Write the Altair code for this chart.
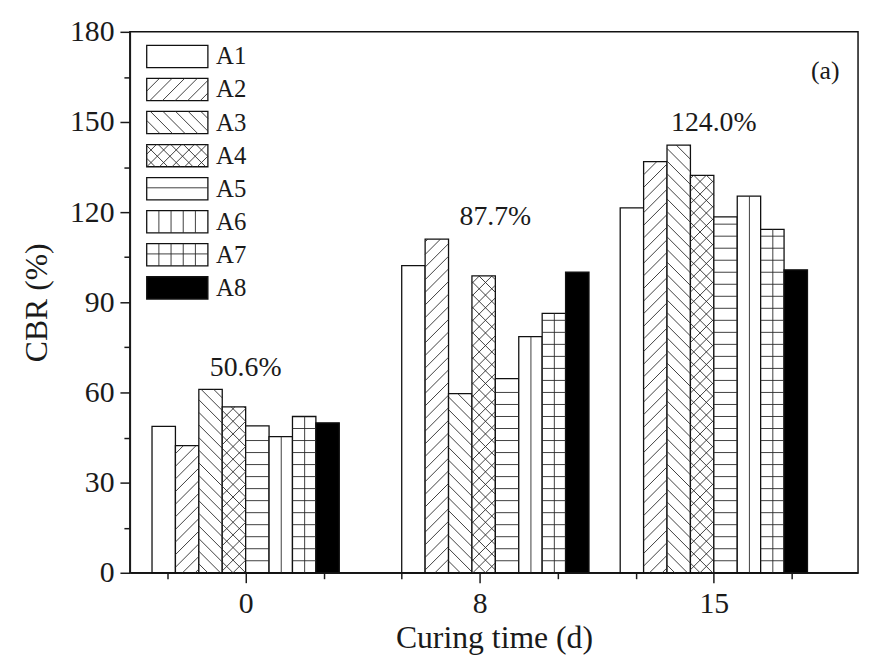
import math
import altair as alt
import pandas as pd

# ---------------- data ----------------
days = [0, 8, 15]
series = ["A1", "A2", "A3", "A4", "A5", "A6", "A7", "A8"]
cbr_day0 = [48.7, 42.3, 61.0, 55.2, 48.9, 45.3, 52.0, 49.9]
cbr_day8 = [102.2, 111.0, 59.6, 98.8, 64.6, 78.6, 86.3, 100.0]
cbr_day15 = [121.4, 136.8, 142.3, 132.2, 118.4, 125.3, 114.3, 100.8]
gain_labels = ["50.6%", "87.7%", "124.0%"]
tick_label_text = ["0", "8", "15"]
tick_label_at = [0, 7.5, 15]
hatches = [[], ["fwd"], ["back"], ["fwd", "back"], ["h"], ["v"], ["h", "v"], []]
fills = ["white"] * 7 + ["black"]

# ---------------- layout ----------------
W, H = 735, 546
X_DOM = [-3.71, 19.62]
Y_DOM = [0, 180]
K = (W / (X_DOM[1] - X_DOM[0])) / (H / (Y_DOM[1] - Y_DOM[0]))  # 45 deg in pixels
BAR_W = 0.75
DIAG_STEP = 4.2
H_STEP = 4.0
V_STEP = 0.39
FONT = "Liberation Serif"
INK = "#1a1a1a"


def hatch(xs, xe, y0, y1, kinds):
    segs = []
    for kind in kinds:
        if kind == "fwd":
            lo = math.ceil((y0 - K * xe) / DIAG_STEP)
            hi = math.floor((y1 - K * xs) / DIAG_STEP)
            for m in range(lo, hi + 1):
                c = m * DIAG_STEP
                xa = max(xs, (y0 - c) / K)
                xb = min(xe, (y1 - c) / K)
                if xb - xa > 1e-4:
                    segs.append((xa, c + K * xa, xb, c + K * xb))
        elif kind == "back":
            lo = math.ceil((y0 + K * xs) / DIAG_STEP)
            hi = math.floor((y1 + K * xe) / DIAG_STEP)
            for m in range(lo, hi + 1):
                c = m * DIAG_STEP
                xa = max(xs, (c - y1) / K)
                xb = min(xe, (c - y0) / K)
                if xb - xa > 1e-4:
                    segs.append((xa, c - K * xa, xb, c - K * xb))
        elif kind == "h":
            y = y0 + H_STEP
            while y < y1 - 1.0:
                segs.append((xs, y, xe, y))
                y += H_STEP
        elif kind == "v":
            x = xs + V_STEP
            while x < xe - 0.06:
                segs.append((x, y0, x, y1))
                x += V_STEP
    return segs


rect_rows, seg_rows = [], []
all_vals = [cbr_day0, cbr_day8, cbr_day15]
for d, vals in zip(days, all_vals):
    for i, (s, v) in enumerate(zip(series, vals)):
        xs = d + (i - 4) * BAR_W
        xe = xs + BAR_W
        rect_rows.append(dict(xs=xs, xe=xe, y0=0, y1=v, fill=fills[i]))
        for a, b, c, e in hatch(xs, xe, 0, v, hatches[i]):
            seg_rows.append(dict(x=a, y=b, x2=c, y2=e))

# legend boxes (same hatch machinery)
LEG_X0, LEG_X1, LEG_TOP, LEG_GAP, LEG_H = -3.17, -1.21, 175.5, 11.0, 7.4
leg_text_rows = []
for i, s in enumerate(series):
    top = LEG_TOP - LEG_GAP * i
    bot = top - LEG_H
    rect_rows.append(dict(xs=LEG_X0, xe=LEG_X1, y0=bot, y1=top, fill=fills[i]))
    for a, b, c, e in hatch(LEG_X0, LEG_X1, bot, top, hatches[i]):
        seg_rows.append(dict(x=a, y=b, x2=c, y2=e))
    leg_text_rows.append(dict(x=LEG_X1 + 0.26, y=(top + bot) / 2, t=s))

rect_df = pd.DataFrame(rect_rows)
seg_df = pd.DataFrame(seg_rows)
leg_df = pd.DataFrame(leg_text_rows)
gain_df = pd.DataFrame(dict(day=days, top=[max(v) for v in all_vals], t=gain_labels))
panel_df = pd.DataFrame(dict(t=["(a)"]))

# ---------------- scales / axes ----------------
xscale = alt.Scale(domain=X_DOM, nice=False, zero=False)
yscale = alt.Scale(domain=Y_DOM, nice=False)

label_expr_x = " : ".join(
    f"datum.value == {p} ? '{t}'" for p, t in zip(tick_label_at, tick_label_text)
) + " : ''"

common_axis = dict(
    grid=False,
    domainColor=INK,
    domainWidth=1.5,
    tickColor=INK,
    tickWidth=1.5,
    labelFont=FONT,
    labelFontSize=30,
    labelColor=INK,
    titleFont=FONT,
    titleFontSize=32,
    titleFontWeight="normal",
    titleColor=INK,
    labelOverlap=False,
    labelFlush=False,
)

xaxis = alt.Axis(
    values=[-2.5, 0, 2.5, 5, 7.5, 10, 12.5, 15, 17.5],
    labelExpr=label_expr_x,
    tickSize={"condition": {"test": "datum.value % 7.5 === 0", "value": 10}, "value": 6},
    labelPadding=6,
    titlePadding=4,
    **common_axis,
)
yaxis = alt.Axis(
    values=list(range(0, 181, 15)),
    labelExpr="datum.value % 30 === 0 ? datum.label : ''",
    tickSize={"condition": {"test": "datum.value % 30 === 0", "value": 10}, "value": 6},
    labelPadding=6,
    titlePadding=16,
    **common_axis,
)


def X(f):
    return alt.X(f, type="quantitative", scale=xscale, axis=xaxis, title="Curing time (d)")


def Y(f):
    return alt.Y(f, type="quantitative", scale=yscale, axis=yaxis, title="CBR (%)")


bars = alt.Chart(rect_df).mark_rect(stroke="#111", strokeWidth=1.3).encode(
    x=X("xs"), x2="xe:Q", y=Y("y0"), y2="y1:Q", fill=alt.Fill("fill:N", scale=None)
)

lines = alt.Chart(seg_df).mark_rule(stroke="#2a2a2a", strokeWidth=0.9).encode(
    x=X("x"), y=Y("y"), x2="x2:Q", y2="y2:Q"
)

leg_text = alt.Chart(leg_df).mark_text(
    align="left", baseline="middle", font=FONT, fontSize=25, color=INK
).encode(x=X("x"), y=Y("y"), text="t:N")

gain_text = alt.Chart(gain_df).mark_text(
    align="center", baseline="alphabetic", dy=-14, font=FONT, fontSize=28, color=INK
).encode(x=X("day"), y=Y("top"), text="t:N")

panel_text = alt.Chart(panel_df).mark_text(
    align="center", baseline="middle", font=FONT, fontSize=26, color=INK
).encode(x=alt.value(702), y=alt.value(40), text="t:N")

chart = (
    alt.layer(bars, lines, leg_text, gain_text, panel_text)
    .properties(
        width=W,
        height=H,
        autosize=alt.AutoSizeParams(type="none"),
        padding={"left": 123, "top": 21, "right": 4, "bottom": 85},
    )
    .configure_view(stroke="#111", strokeWidth=1.5)
)

chart.save("out.html", embed_options={"renderer": "svg", "actions": False})
